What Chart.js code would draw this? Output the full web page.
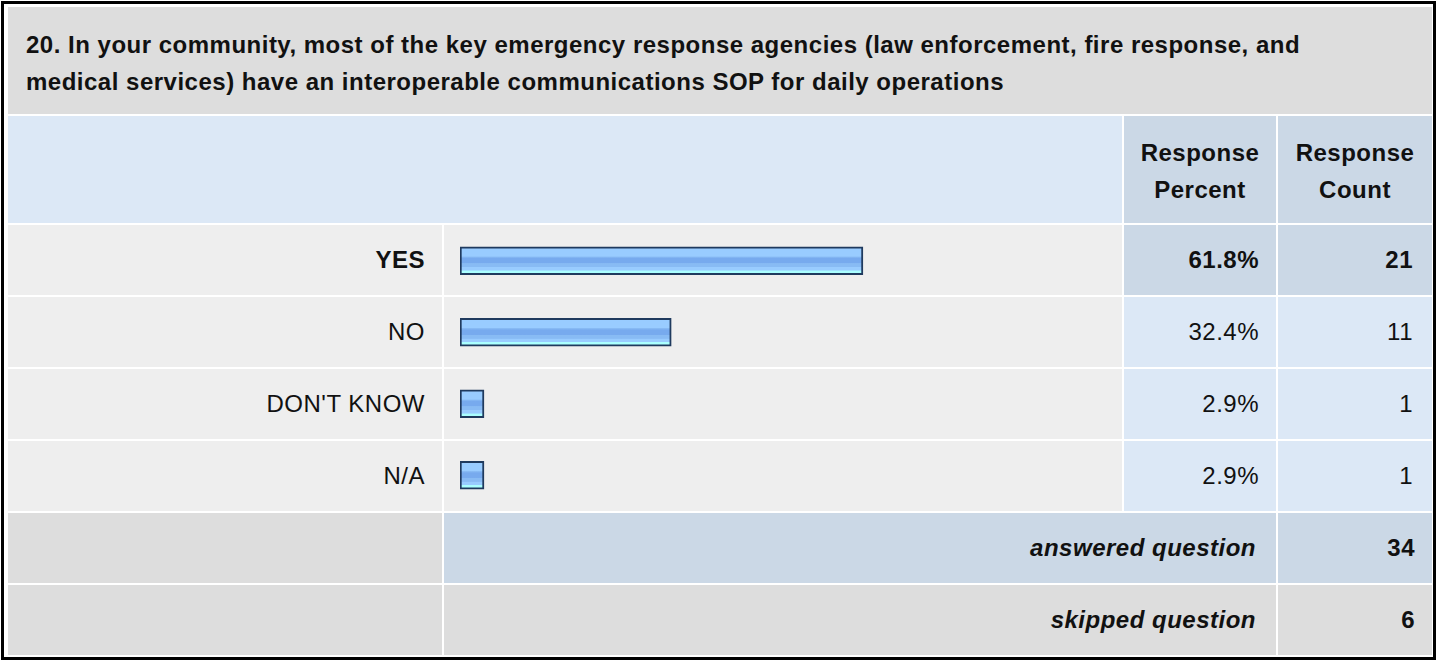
<!DOCTYPE html>
<html lang="en">
<head>
<meta charset="UTF-8">
<title>Question 20 - interoperable communications SOP</title>
<script src="https://cdn.jsdelivr.net/npm/chart.js"></script>
<style>
  html, body { margin: 0; padding: 0; background: #fff; }
  body { width: 1437px; height: 661px; position: relative; overflow: hidden;
         font-family: Arial, "Liberation Sans", sans-serif; color: #111; }
  #frame { position: absolute; left: 1px; top: 1px; width: 1435px; height: 659px;
           border: 3px solid #000; box-sizing: border-box; }
  #grid { position: absolute; left: 8px; top: 7px; display: grid; gap: 2px; background: #fff;
          grid-template-columns: 434px 678px 152px 154px;
          grid-template-rows: 107px 107px repeat(6, 70px); }
  #grid > div { box-sizing: border-box; font-size: 24px; letter-spacing: 0.5px; display: flex; align-items: center; white-space: nowrap; }
  .title { grid-column: 1 / 5; background: #dddddd; font-weight: bold; line-height: 37px;
           padding: 0 18px; align-items: flex-start !important; padding-top: 19px; }
  .hblank { grid-column: 1 / 3; background: #dce8f6; }
  .hcol { background: #cbd8e6; font-weight: bold; justify-content: center; text-align: center; line-height: 37px; padding-top: 2px; }
  .lab { background: #eeeeee; justify-content: flex-end; padding-right: 17px; }
  .bar { background: #eeeeee; }
  .pct { background: #dce8f6; justify-content: flex-end; padding-right: 17px; }
  .cnt { background: #dce8f6; justify-content: flex-end; padding-right: 19px; }
  .top { font-weight: bold; }
  .pct.top, .cnt.top { background: #cbd8e6; }
  .sumlab { background: #dddddd; }
  .sumtxt { grid-column: 2 / 4; justify-content: flex-end; padding-right: 20px; font-weight: bold; font-style: italic; }
  .sumcnt { justify-content: flex-end; padding-right: 17px; font-weight: bold; }
  .ans { background: #cbd8e6; }
  .skp { background: #dddddd; }
  #chartBox { position: absolute; left: 444px; top: 225px; width: 678px; height: 286px; }
</style>
</head>
<body>
<div id="frame"></div>
<div id="grid"></div>
<div id="chartBox"><canvas id="bars" width="678" height="286"></canvas></div>

<script>
// survey data
const titleLines = [
  '20. In your community, most of the key emergency response agencies (law enforcement, fire response, and',
  'medical services) have an interoperable communications SOP for daily operations'
];
const categories = ['YES', 'NO', "DON'T KNOW", 'N/A'];
const percentValues = [61.8, 32.4, 2.9, 2.9];
const responseCounts = [21, 11, 1, 1];
const summaryLabels = ['answered question', 'skipped question'];
const summaryCounts = [34, 6];

// table around the chart
const grid = document.getElementById('grid');
function cell(cls, text) {
  const d = document.createElement('div');
  d.className = cls;
  const inner = document.createElement('div');
  inner.innerHTML = text;
  d.appendChild(inner);
  grid.appendChild(d);
}
cell('title', titleLines.join('<br>'));
cell('hblank', '');
cell('hcol', 'Response<br>Percent');
cell('hcol', 'Response<br>Count');

const maxPct = Math.max(...percentValues);
categories.forEach((c, i) => {
  const top = percentValues[i] === maxPct ? ' top' : '';
  cell('lab' + top, c);
  cell('bar', '');
  cell('pct' + top, percentValues[i].toFixed(1) + '%');
  cell('cnt' + top, String(responseCounts[i]));
});
cell('sumlab', '');
cell('sumtxt ans', summaryLabels[0]);
cell('sumcnt ans', String(summaryCounts[0]));
cell('sumlab', '');
cell('sumtxt skp', summaryLabels[1]);
cell('sumcnt skp', String(summaryCounts[1]));

// glossy bar fill, banded like the original image
function barFill(c) {
  const chart = c.chart;
  const ys = chart.scales && chart.scales.y;
  if (!ys || c.dataIndex === undefined) return '#88bbee';
  const cy = ys.getPixelForValue(c.dataIndex);
  if (!Number.isFinite(cy)) return '#88bbee';
  const g = chart.ctx.createLinearGradient(0, cy - 14, 0, cy + 14);
  g.addColorStop(0.00, '#99ccff');
  g.addColorStop(0.34, '#99ccff');
  g.addColorStop(0.36, '#88bbf4');
  g.addColorStop(0.42, '#77aaee');
  g.addColorStop(0.58, '#77aaee');
  g.addColorStop(0.60, '#88bbf4');
  g.addColorStop(0.72, '#88bbf4');
  g.addColorStop(0.74, '#99ccff');
  g.addColorStop(0.84, '#99ccff');
  g.addColorStop(0.86, '#aaffff');
  g.addColorStop(1.00, '#aaffff');
  return g;
}

const ctx = document.getElementById('bars').getContext('2d');
new Chart(ctx, {
  type: 'bar',
  data: {
    labels: categories,
    datasets: [{
      label: 'Response Percent',
      data: percentValues,
      backgroundColor: barFill,
      borderColor: '#1f3a5e',
      borderWidth: 2,
      borderSkipped: false,
      barThickness: 28,
      minBarLength: 24
    }]
  },
  options: {
    indexAxis: 'y',
    responsive: false,
    animation: false,
    events: [],
    layout: { padding: { left: 16, right: 10, top: 0, bottom: 0 } },
    plugins: { legend: { display: false }, tooltip: { enabled: false } },
    scales: {
      x: { display: false, min: 0, max: 100 },
      y: { display: false }
    }
  }
});
</script>
</body>
</html>
